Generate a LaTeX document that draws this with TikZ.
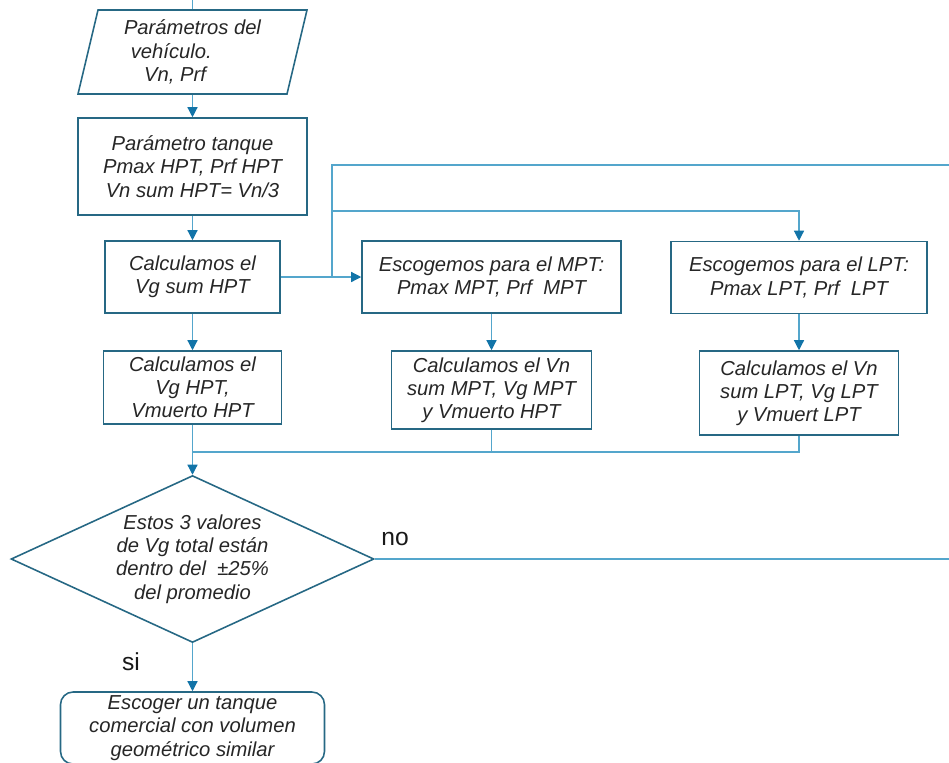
\documentclass[tikz,border=0pt]{standalone}
\usepackage{fontspec}
\setmainfont{Liberation Sans}
\usepackage{tikz}
\usetikzlibrary{arrows.meta,shapes,backgrounds}
\definecolor{boxblue}{RGB}{38,104,132}
\definecolor{lineblue}{RGB}{84,166,204}
\definecolor{tipblue}{RGB}{18,116,168}

\begin{document}
\begin{tikzpicture}[x=0.02cm,y=-0.02cm,>={Triangle[length=0.2cm,width=0.2cm,color=tipblue]},
    main node/.style={rectangle,draw=boxblue,line width=0.9pt,align=center,inner sep=0pt,
                      text=black!85,font=\fontsize{11.5}{13.2}\selectfont\itshape},
    decision/.style={main node,diamond,aspect=2.2,minimum width=7.26cm,minimum height=3.34cm},
    label text/.style={text=black!90,font=\fontsize{14}{16}\selectfont},
    link/.style={color=lineblue,line width=0.7pt},
    arr/.style={link,->}]

  \useasboundingbox (0,0) rectangle (949,762);
  \clip (0,0) rectangle (949,762);

  % left column
  \node[main node,draw=none,minimum width=4.58cm,minimum height=1.68cm] (1) at (192.5,52)
       {Parámetros del\\vehículo.\rule{0.85cm}{0pt}\\Vn, Prf\rule{0.7cm}{0pt}};
  \draw[boxblue,line width=0.9pt] (98,10) -- (307,10) -- (287,94) -- (78,94) -- cycle;
  \node[main node,minimum width=4.58cm,minimum height=1.94cm] (2) at (192.5,166.5)
       {Parámetro tanque\\Pmax HPT, Prf HPT\\Vn sum HPT= Vn/3};
  \node[main node,minimum width=3.5cm,minimum height=1.44cm] (3) at (192.5,277)
       {Calculamos el\\Vg sum HPT};
  \node[main node,minimum width=3.56cm,minimum height=1.46cm] (6) at (192.5,387.5)
       {Calculamos el\\Vg HPT,\\Vmuerto HPT};
  \node[decision] (9) at (192.5,559)
       {Estos 3 valores\\de Vg total están\\dentro del\ \ ±25\%\\del promedio};
  \node[main node,rounded corners=0.25cm,minimum width=5.28cm,minimum height=1.44cm] (10) at (192.5,728)
       {Escoger un tanque\\comercial con volumen\\geométrico similar};

  % MPT and LPT columns
  \node[main node,minimum width=5.18cm,minimum height=1.44cm] (4) at (491.5,277)
       {Escogemos para el MPT:\\Pmax MPT, Prf\ \ MPT};
  \node[main node,minimum width=4.0cm,minimum height=1.56cm] (7) at (491.5,390)
       {Calculamos el Vn\\sum MPT, Vg MPT\\y Vmuerto HPT};
  \node[main node,minimum width=5.12cm,minimum height=1.44cm] (5) at (799,277.5)
       {Escogemos para el LPT:\\Pmax LPT, Prf\ \ LPT};
  \node[main node,minimum width=3.98cm,minimum height=1.68cm] (8) at (799,393)
       {Calculamos el Vn\\sum LPT, Vg LPT\\y Vmuert LPT};

  \node[label text] (no) at (395,539) {no};
  \node[label text] (si) at (131,662) {si};

  \coordinate (top) at (192.5,0);
  \coordinate (j) at (332,277);
  \coordinate (b) at (332,211);
  \coordinate (up) at (949,165);
  \coordinate (m) at (192.5,452);
  \coordinate (out) at (949,559);

  \path[arr]
    (1) edge (2)
    (2) edge (3)
    (3) edge (4)
    (3) edge (6)
    (4) edge (7)
    (5) edge (8)
    (6) edge (9)
    (9) edge (10);

  \draw[link] (top) -- (1.north);
  \draw[link] (j) |- (up);
  \draw[arr] (b) -| (5.north);
  \draw[link] (7.south) |- (m);
  \draw[link] (8.south) |- (m);
  \draw[link] (9.east) -- (out);
\end{tikzpicture}
\end{document}
